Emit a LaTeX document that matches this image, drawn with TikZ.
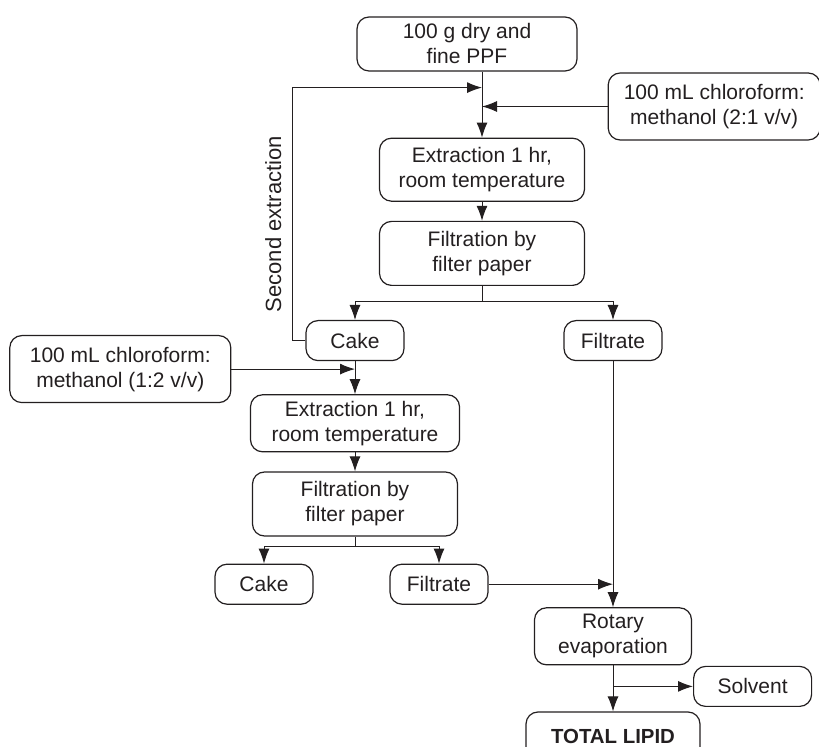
\documentclass[tikz,border=0pt]{standalone}
\usepackage{fontspec}
\setmainfont{Liberation Sans}
\usepackage{tikz}
\usetikzlibrary{arrows.meta, positioning, calc}
\definecolor{ink}{HTML}{231F20}

\begin{document}
\begin{tikzpicture}[
  box/.style={rectangle, draw=ink, text=ink, line width=0.6pt, rounded corners=6pt, inner sep=0pt, align=center, font=\fontsize{10.5}{12.5}\selectfont},
  proc/.style={box, minimum width=102.5pt, minimum height=31.5pt},
  solv/.style={box, minimum width=108pt, minimum height=33.5pt},
  small/.style={box, minimum width=49pt, minimum height=20pt},
  arrow/.style={-{Latex[length=7.5pt, width=5.5pt]}, draw=ink, line width=0.5pt},
  line/.style={draw=ink, line width=0.5pt}
]
\useasboundingbox (0,0) rectangle (409.5pt,-373.5pt);

% Sample and first extraction
\node[box, minimum width=110pt, minimum height=27pt] (ppf) at (233.5pt,-22pt) {100 g dry and\\fine PPF};
\node[proc, below=33pt of ppf, xshift=7.5pt] (ext1) {Extraction 1 hr,\\room temperature};
\node[proc, minimum height=32pt, below=9.5pt of ext1] (filt1) {Filtration by\\filter paper};
\node[solv, minimum width=106pt, right=15pt of ppf, yshift=-31.25pt] (solv1) {100 mL chloroform:\\methanol (2:1 v/v)};

% Products of first filtration
\coordinate[below=8pt of filt1] (split1);
\node[small, below=17pt of filt1, xshift=-63.5pt] (cake1) {Cake};
\node[small, below=17pt of filt1, xshift=65.5pt] (filtrate1) {Filtrate};

% Second extraction
\node[solv, minimum width=110.5pt, left=37pt of cake1, yshift=-14.25pt] (solv2) {100 mL chloroform:\\methanol (1:2 v/v)};
\node[proc, minimum width=104.5pt, minimum height=28.5pt, below=16.5pt of cake1] (ext2) {Extraction 1 hr,\\room temperature};
\node[proc, minimum height=32pt, below=9.5pt of ext2] (filt2) {Filtration by\\filter paper};
\coordinate[below=5pt of filt2] (split2);
\node[small, below=13.5pt of filt2, xshift=-45.5pt] (cake2) {Cake};
\node[small, below=13.5pt of filt2, xshift=42pt] (filtrate2) {Filtrate};

% Evaporation
\node[proc, minimum width=78.5pt, minimum height=28.5pt, below=123pt of filtrate1] (rotary) {Rotary\\evaporation};
\node[small, minimum width=59pt, right=40pt of rotary.south, yshift=-10.5pt] (solvent) {Solvent};
\node[small, minimum width=87pt, minimum height=24pt, below=23pt of rotary, font=\fontsize{10.2}{12.5}\selectfont\bfseries] (total) {TOTAL LIPID};

\coordinate (back) at ($(ext1.north |- ppf.south)+(0,-8pt)$);

% Arrows
\draw[arrow] (ext1.north |- ppf.south) -- (ext1);
\draw[arrow] (solv1.west) -- (solv1.west -| ext1.north);
\draw[arrow] (ext1) -- (filt1);
\draw[line] (filt1) -- (split1);
\draw[arrow] (split1) -| (cake1);
\draw[arrow] (split1) -| (filtrate1);
\draw[arrow] (cake1.west) -- ++(-6.5pt,0) |- node[pos=0.23, above=2pt, sloped, text=ink, font=\fontsize{11}{13}\selectfont] {Second extraction} (back);
\draw[arrow] (solv2.east) -- (solv2.east -| cake1.south);
\draw[arrow] (cake1) -- (ext2);
\draw[arrow] (ext2) -- (filt2);
\draw[line] (filt2) -- (split2);
\draw[arrow] (split2) -| (cake2);
\draw[arrow] (split2) -| (filtrate2);
\draw[arrow] (filtrate2.east) -- (filtrate2.east -| filtrate1.south);
\draw[arrow] (filtrate1) -- (rotary);
\draw[arrow] (solvent.west -| rotary.south) -- (solvent.west);
\draw[arrow] (rotary) -- (total);

\end{tikzpicture}
\end{document}
